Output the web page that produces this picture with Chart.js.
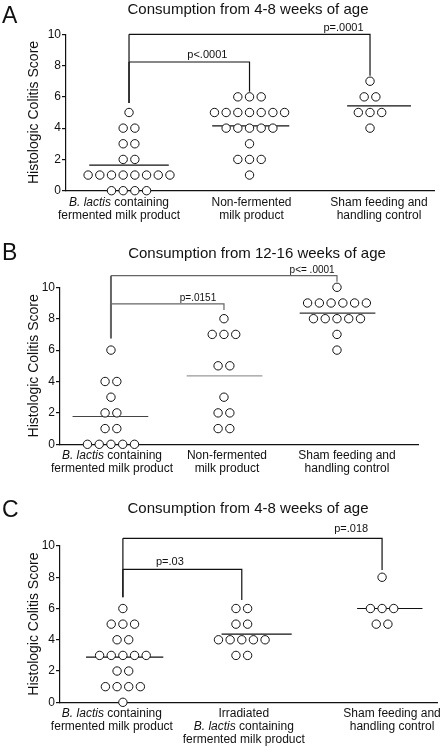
<!DOCTYPE html>
<html lang="en">
<head>
    <meta charset="UTF-8">
    <title>Histologic Colitis Score</title>
    <script src="https://cdn.jsdelivr.net/npm/chart.js"></script>
    <style>
        body { margin: 0; padding: 0; background: #fff; }
        canvas { display: block; }
    </style>
</head>
<body>
    <canvas id="chartA" width="444" height="234"></canvas>
    <canvas id="chartB" width="444" height="254"></canvas>
    <canvas id="chartC" width="444" height="263"></canvas>

    <script>
        // Category labels (*...* = italic)
        const catsAB = [
            ['*B. lactis* containing', 'fermented milk product'],
            ['Non-fermented', 'milk product'],
            ['Sham feeding and', 'handling control']
        ];
        const catsC = [
            ['*B. lactis* containing', 'fermented milk product'],
            ['Irradiated', '*B. lactis* containing', 'fermented milk product'],
            ['Sham feeding and', 'handling control']
        ];

        // Individual colitis scores per group
        const scoresA1 = [5, 4, 4, 3, 3, 2, 2, 1, 1, 1, 1, 1, 1, 1, 1, 0, 0, 0, 0];
        const scoresA2 = [6, 6, 6, 5, 5, 5, 5, 5, 5, 5, 4, 4, 4, 4, 4, 3, 2, 2, 2, 1];
        const scoresA3 = [7, 6, 6, 5, 5, 5, 4];

        const scoresB1 = [6, 4, 4, 3, 2, 2, 1, 1, 0, 0, 0, 0, 0];
        const scoresB2 = [8, 7, 7, 7, 5, 5, 3, 2, 2, 1, 1];
        const scoresB3 = [10, 9, 9, 9, 9, 9, 9, 8, 8, 8, 8, 8, 7, 6];

        const scoresC1 = [6, 5, 5, 5, 4, 4, 3, 3, 3, 3, 3, 2, 2, 1, 1, 1, 1, 0];
        const scoresC2 = [6, 6, 5, 5, 4, 4, 4, 4, 4, 3, 3];
        const scoresC3 = [8, 6, 6, 6, 5, 5];

        // Significance brackets: group a vs group b, level, leg ends, label
        const bracketsA = [
            { a: 0, b: 2, level: 10, aEnd: 5.6, bEnd: 7.35, text: 'p=.0001', tx: 2.78, ty: 10.45 },
            { a: 0, b: 1, level: 8.23, aEnd: 5.6, bEnd: 6.33, text: 'p<.0001', tx: 1.65, ty: 8.7 }
        ];
        const bracketsB = [
            { a: 0, b: 2, level: 10.74, aEnd: 6.75, bEnd: 10.36, text: 'p<= .0001', tx: 2.78, ty: 11.15 },
            { a: 0, b: 1, level: 8.94, aEnd: 6.75, bEnd: 8.56, text: 'p=.0151', tx: 1.77, ty: 9.35 }
        ];
        const bracketsC = [
            { a: 0, b: 2, level: 10.49, aEnd: 6.72, bEnd: 8.46, text: 'p=.018', tx: 2.92, ty: 11.13 },
            { a: 0, b: 1, level: 8.51, aEnd: 6.72, bEnd: 6.54, text: 'p=.03', tx: 1.395, ty: 9.0 }
        ];

        const FONT = '"Liberation Sans", Arial, sans-serif';

        const panels = [
            {
                id: 'chartA', letter: 'A', title: 'Consumption from 4-8 weeks of age',
                cats: catsAB, groups: [scoresA1, scoresA2, scoresA3], brackets: bracketsA,
                gx: [1, 2, 3], xmin: 0.477, xmax: 3.531, step: 0.097,
                top: 34.3, bottom: 190.7, left: 66, right: 434,
                meanSpan: [[-0.33, 0.33], [-0.31, 0.33], [-0.19, 0.34]],
                labelShift: [-10, 2, 9], titleX: 248, titleY: 13.5, letterY: 22.5,
                bracketColor: '#111', leftLegWidth: 1.2, meanColors: ['#111', '#111', '#111'], pFont: 11
            },
            {
                id: 'chartB', letter: 'B', title: 'Consumption from 12-16 weeks of age',
                cats: catsAB, groups: [scoresB1, scoresB2, scoresB3], brackets: bracketsB,
                gx: [1, 2, 3], xmin: 0.549, xmax: 3.717, step: 0.104,
                top: 53.3, bottom: 210.3, left: 60, right: 418,
                meanSpan: [[-0.34, 0.33], [-0.33, 0.34], [-0.33, 0.34]],
                labelShift: [1, 3, 10], titleX: 257, titleY: 23.5, letterY: 26,
                bracketColor: '#666', leftLegWidth: 2, meanColors: ['#444', '#999', '#333'], pFont: 10
            },
            {
                id: 'chartC', letter: 'C', title: 'Consumption from 4-8 weeks of age',
                cats: catsC, groups: [scoresC1, scoresC2, scoresC3], brackets: bracketsC,
                gx: [1, 2, 3.18], xmin: 0.471, xmax: 3.642, step: 0.098,
                top: 58, bottom: 214.3, left: 60, right: 437,
                meanSpan: [[-0.31, 0.34], [-0.17, 0.42], [-0.21, 0.34]],
                labelShift: [-11, 2, 10], titleX: 248, titleY: 24.5, letterY: 28.5,
                bracketColor: '#111', leftLegWidth: 1.2, meanColors: ['#111', '#111', '#111'], pFont: 11
            }
        ];

        // Spread tied scores side by side, centred on the group position
        function swarm(scores, cx, step) {
            const counts = {};
            scores.forEach(v => { counts[v] = (counts[v] || 0) + 1; });
            const pts = [];
            Object.keys(counts).forEach(k => {
                const n = counts[k];
                for (let i = 0; i < n; i++) {
                    pts.push({ x: cx + (i - (n - 1) / 2) * step, y: Number(k) });
                }
            });
            return pts;
        }

        function mean(arr) {
            return arr.reduce((s, v) => s + v, 0) / arr.length;
        }

        // Draw a line of text where *...* parts are italic, centred on x
        function drawRich(ctx, line, x, y, size) {
            const parts = line.split('*').map((t, i) => ({ t, it: i % 2 === 1 })).filter(p => p.t);
            let total = 0;
            parts.forEach(p => {
                ctx.font = (p.it ? 'italic ' : '') + size + 'px ' + FONT;
                p.w = ctx.measureText(p.t).width;
                total += p.w;
            });
            let cx = x - total / 2;
            ctx.textAlign = 'left';
            parts.forEach(p => {
                ctx.font = (p.it ? 'italic ' : '') + size + 'px ' + FONT;
                ctx.fillText(p.t, cx, y);
                cx += p.w;
            });
        }

        const textPlugin = {
            id: 'panelText',
            afterDraw(chart) {
                const p = chart.options.plugins.panelText;
                const ctx = chart.ctx;
                const area = chart.chartArea;
                const xs = chart.scales.x;
                const ys = chart.scales.y;
                ctx.save();
                ctx.fillStyle = '#111';
                ctx.textBaseline = 'alphabetic';

                // Panel letter
                ctx.font = '23px ' + FONT;
                ctx.textAlign = 'left';
                ctx.fillText(p.letter, 2, p.letterY);

                // Title
                ctx.font = '15px ' + FONT;
                ctx.textAlign = 'center';
                ctx.fillText(p.title, p.titleX, p.titleY);

                // Y axis title
                ctx.save();
                ctx.translate(34, (area.top + area.bottom) / 2);
                ctx.rotate(-Math.PI / 2);
                ctx.font = '14px ' + FONT;
                ctx.textBaseline = 'middle';
                ctx.fillText('Histologic Colitis Score', 0, 0);
                ctx.restore();

                // Category labels
                ctx.textBaseline = 'middle';
                p.cats.forEach((lines, i) => {
                    const cx = xs.getPixelForValue(p.gx[i]) + p.labelShift[i];
                    lines.forEach((line, j) => {
                        drawRich(ctx, line, cx, area.bottom + 11.5 + j * 13, 12);
                    });
                });

                // p-values
                ctx.textBaseline = 'bottom';
                ctx.textAlign = 'center';
                ctx.font = p.pFont + 'px ' + FONT;
                p.brackets.forEach(b => {
                    ctx.fillText(b.text, xs.getPixelForValue(b.tx), ys.getPixelForValue(b.ty) + 6);
                });
                ctx.restore();
            }
        };

        panels.forEach(p => {
            const canvas = document.getElementById(p.id);
            const H = canvas.height;
            const datasets = [];

            // Points
            p.groups.forEach((scores, i) => {
                datasets.push({
                    type: 'scatter',
                    data: swarm(scores, p.gx[i], p.step),
                    pointRadius: 4.2,
                    pointBorderWidth: 1,
                    pointBorderColor: '#111',
                    pointBackgroundColor: '#fff',
                    clip: false,
                    order: 1
                });
            });

            // Mean lines
            p.groups.forEach((scores, i) => {
                const m = mean(scores);
                datasets.push({
                    type: 'line',
                    data: [{ x: p.gx[i] + p.meanSpan[i][0], y: m }, { x: p.gx[i] + p.meanSpan[i][1], y: m }],
                    borderColor: p.meanColors[i],
                    borderWidth: 1.2,
                    pointRadius: 0,
                    clip: false,
                    order: 2
                });
            });

            // Brackets
            p.brackets.forEach(b => {
                const xa = p.gx[b.a], xb = p.gx[b.b];
                datasets.push({
                    type: 'line',
                    data: [{ x: xa, y: b.level }, { x: xb, y: b.level }, { x: xb, y: b.bEnd }],
                    borderColor: p.bracketColor,
                    borderWidth: 1.2,
                    pointRadius: 0,
                    clip: false,
                    order: 3
                });
                datasets.push({
                    type: 'line',
                    data: [{ x: xa, y: b.aEnd }, { x: xa, y: b.level }],
                    borderColor: p.bracketColor,
                    borderWidth: p.leftLegWidth,
                    pointRadius: 0,
                    clip: false,
                    order: 3
                });
            });

            new Chart(canvas, {
                type: 'scatter',
                data: { datasets },
                options: {
                    responsive: false,
                    animation: false,
                    devicePixelRatio: 1,
                    layout: { padding: { top: p.top, right: canvas.width - p.right, left: 0, bottom: 0 } },
                    plugins: {
                        legend: { display: false },
                        tooltip: { enabled: false },
                        panelText: p
                    },
                    scales: {
                        x: {
                            type: 'linear',
                            min: p.xmin,
                            max: p.xmax,
                            ticks: { display: false },
                            grid: { display: false, drawTicks: false },
                            border: { display: true, color: '#111', width: 1.2 },
                            afterFit(scale) { scale.height = H - p.bottom; }
                        },
                        y: {
                            min: 0,
                            max: 10,
                            ticks: {
                                stepSize: 2,
                                padding: 1,
                                color: '#111',
                                font: { family: FONT, size: 12 }
                            },
                            grid: { display: true, drawOnChartArea: false, tickLength: 4, color: '#111', lineWidth: 1.2 },
                            border: { display: true, color: '#111', width: 1.2 },
                            afterFit(scale) { scale.width = p.left; }
                        }
                    }
                },
                plugins: [textPlugin]
            });
        });
    </script>
</body>
</html>
